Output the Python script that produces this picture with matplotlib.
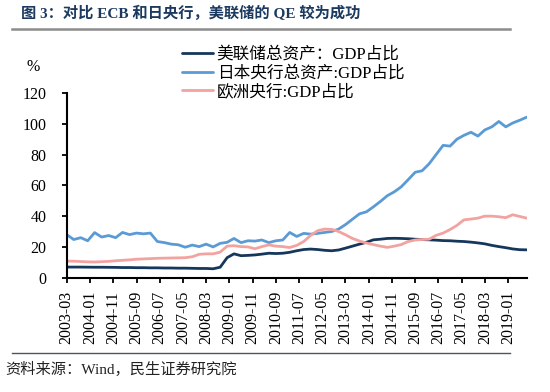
import matplotlib
matplotlib.use('Agg')
import matplotlib.pyplot as plt
import pandas as pd
from matplotlib.lines import Line2D

plt.rcParams['font.family'] = ['Liberation Serif', 'Noto Sans CJK SC']
plt.rcParams['axes.unicode_minus'] = False

# ---------------- data (quarterly readings, 2003-03 .. 2019-09) ----------------
start_month = '2003-03'
n_points = 67

us_fed = [6.9, 6.9, 6.9, 6.85, 6.8, 6.8, 6.75, 6.7, 6.6, 6.6,
          6.5, 6.5, 6.4, 6.4, 6.3, 6.3, 6.2, 6.2, 6.1, 6.0,
          6.0, 5.8, 6.8, 13.0, 15.5, 14.3, 14.5, 14.8, 15.3, 15.9,
          15.7, 15.9, 16.5, 17.5, 18.3, 18.6, 18.3, 17.8, 17.5, 18.0,
          19.2, 20.5, 21.8, 23.0, 24.6, 25.0, 25.5, 25.6, 25.5, 25.3,
          25.0, 24.8, 24.6, 24.4, 24.1, 24.0, 23.7, 23.5, 23.1, 22.6,
          22.0, 21.0, 20.2, 19.5, 18.7, 18.2, 18.1]

japan_boj = [28.0, 24.8, 26.0, 24.0, 29.3, 26.4, 27.4, 26.0, 29.4, 28.0,
             29.0, 28.5, 29.0, 23.5, 22.8, 21.8, 21.4, 19.8, 21.2, 20.2,
             21.8, 20.0, 22.3, 23.0, 25.5, 22.8, 24.0, 23.8, 24.5, 22.8,
             24.0, 24.5, 29.4, 26.8, 28.8, 28.3, 28.8, 29.4, 30.0, 31.6,
             34.5, 38.0, 41.5, 42.8, 46.0, 49.5, 53.3, 55.8, 59.0, 63.7,
             68.5, 69.5, 74.0, 80.0, 86.0, 85.5, 90.0, 92.5, 94.5, 92.0,
             96.0, 98.0, 101.5, 98.0, 100.5, 102.3, 104.3]

euro_ecb = [10.8, 10.7, 10.5, 10.3, 10.2, 10.4, 10.6, 11.0, 11.3, 11.6,
            12.0, 12.2, 12.4, 12.6, 12.7, 12.8, 12.9, 13.0, 13.6, 15.2,
            15.5, 15.5, 16.6, 20.5, 20.8, 20.2, 20.0, 18.8, 20.2, 21.3,
            20.5, 20.2, 19.6, 21.0, 23.5, 27.5, 30.5, 31.6, 31.4, 30.0,
            27.9, 25.5, 23.8, 22.5, 21.5, 20.5, 19.7, 20.5, 21.5, 23.5,
            24.5, 24.8, 25.0, 27.5, 29.0, 31.3, 34.0, 37.6, 38.1, 38.7,
            40.0, 40.0, 39.6, 39.0, 40.9, 39.8, 38.7]

series_labels = ['美联储总资产：GDP占比', '日本央行总资产:GDP占比', '欧洲央行:GDP占比']
series_colors = ['#16375C', '#5B9BD5', '#F2A3A0']

tick_labels = ['2003-03', '2004-01', '2004-11', '2005-09', '2006-07', '2007-05',
               '2008-03', '2009-01', '2009-11', '2010-09', '2011-07', '2012-05',
               '2013-03', '2014-01', '2014-11', '2015-09', '2016-07', '2017-05',
               '2018-03', '2019-01']
y_ticks = [0, 20, 40, 60, 80, 100, 120]

title_text = '图 3：对比 ECB 和日央行，美联储的 QE 较为成功'
source_text = '资料来源：Wind，民生证券研究院'

# ---------------- figure ----------------
W, H = 550, 392
fig = plt.figure(figsize=(W / 100, H / 100), dpi=100)
fig.patch.set_facecolor('white')

ax = fig.add_axes([66.7 / W, 1 - 277.7 / H, (526.7 - 66.7) / W, (277.7 - 93) / H])

dates = pd.date_range(start_month, periods=n_points, freq='3MS')
for vals, lab, col in zip([us_fed, japan_boj, euro_ecb], series_labels, series_colors):
    ax.plot(dates, vals, color=col, lw=2.0, label=lab, solid_capstyle='round')

tick_dates = pd.to_datetime(tick_labels, format='%Y-%m')
ax.set_xticks(tick_dates)
ax.set_xticklabels(tick_labels, rotation=90, fontsize=11.5)
ax.set_xlim(dates[0], dates[-1])
ax.set_ylim(0, 120)
ax.set_yticks(y_ticks)
ax.set_yticklabels([str(v) for v in y_ticks], fontsize=11.5)

for s in ['top', 'right']:
    ax.spines[s].set_visible(False)
for s in ['left', 'bottom']:
    ax.spines[s].set_linewidth(1.5)
    ax.spines[s].set_color('black')
ax.tick_params(axis='y', direction='out', length=3.5, width=1.3, pad=11)
ax.tick_params(axis='x', direction='out', length=3.5, width=1.3, pad=6)

fig.text(33 / W, 1 - 67 / H, '%', ha='center', va='center', fontsize=11.5)

leg = ax.legend(loc='upper left', bbox_to_anchor=(181.7 / W, 1 - 47 / H),
                bbox_transform=fig.transFigure, frameon=False, fontsize=12,
                handlelength=1.9, handletextpad=0.2, labelspacing=0.15,
                borderpad=0, borderaxespad=0)

# title & rules
fig.text(21 / W, 1 - 13.5 / H, title_text, ha='left', va='center', fontsize=11,
         fontweight='bold', color='#1C3A60')
fig.add_artist(Line2D([12 / W, 510 / W], [1 - 29 / H, 1 - 29 / H],
                      transform=fig.transFigure, color='#8C8C8C', lw=1.8))
fig.add_artist(Line2D([12 / W, 510 / W], [1 - 352.7 / H, 1 - 352.7 / H],
                      transform=fig.transFigure, color='#4A5560', lw=1.0))
fig.text(5 / W, 1 - 369 / H, source_text, ha='left', va='center', fontsize=11,
         color='#222222')

fig.savefig('out.png', dpi=100, facecolor='white')
